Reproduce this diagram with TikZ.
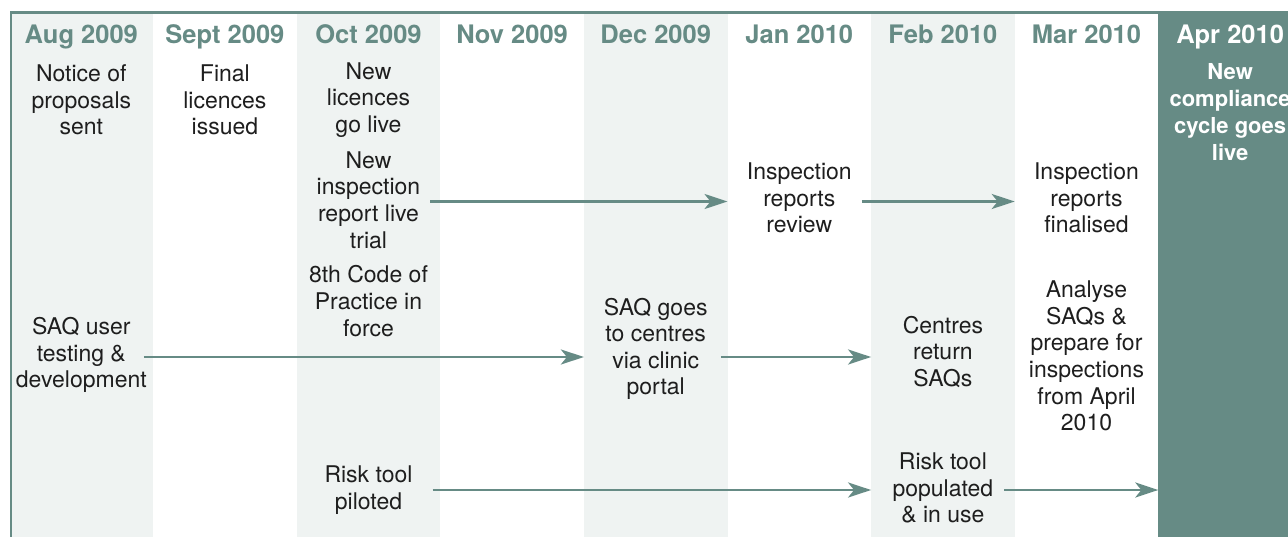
\documentclass[tikz,border=0pt]{standalone}
\usepackage{fontspec}
\setmainfont{TeX Gyre Heros}
\usetikzlibrary{arrows.meta}
\definecolor{teal}{HTML}{668B85}
\definecolor{pale}{HTML}{EFF3F2}
\definecolor{ink}{HTML}{1E1E1E}
\tikzset{
  col/.style={draw=none,minimum width=143.6pt,minimum height=526pt,inner sep=0pt,outer sep=0pt,anchor=north west},
  lightcol/.style={col,fill=pale},
  darkcol/.style={col,fill=teal},
  plaincol/.style={col,fill=white},
  head/.style={font=\fontsize{25.5}{30}\selectfont\bfseries,text=teal,anchor=base,inner sep=0pt},
  body/.style={font=\fontsize{23}{26.6}\selectfont,text=ink,align=center,inner sep=0pt},
  boldbody/.style={font=\fontsize{22}{27}\selectfont\bfseries,text=white,align=center,inner sep=0pt},
  arr/.style={draw=teal,line width=2.6pt,-{Stealth[length=23pt,width=15pt,inset=6pt]}},
}
\begin{document}
\begin{tikzpicture}[x=1pt,y=-1pt]
\useasboundingbox (0,0) rectangle (1288,537);
\clip (0,0) rectangle (1288,537);
% columns
\node[lightcol] (caug) at (9.5,11) {};
\node[plaincol] (csep) at (153.1,11) {};
\node[lightcol] (coct) at (296.7,11) {};
\node[plaincol] (cnov) at (440.3,11) {};
\node[lightcol] (cdec) at (583.9,11) {};
\node[plaincol] (cjan) at (727.5,11) {};
\node[lightcol] (cfeb) at (871.1,11) {};
\node[plaincol] (cmar) at (1014.7,11) {};
\node[darkcol] (capr) at (1158.3,11) {};
% frame
\draw[teal,line width=2.6pt] (caug.south west) ++(1.3,0) -- ([xshift=1.3pt,yshift=-1.3pt]caug.north west) -- ([yshift=-1.3pt]capr.north east);
% headers
\node[head] (haug) at (81.3,44) {Aug 2009};
\node[head] (hsep) at (224.9,44) {Sept 2009};
\node[head] (hoct) at (368.5,44) {Oct 2009};
\node[head] (hnov) at (512.1,44) {Nov 2009};
\node[head] (hdec) at (655.7,44) {Dec 2009};
\node[head] (hjan) at (799.3,44) {Jan 2010};
\node[head] (hfeb) at (942.9,44) {Feb 2010};
\node[head] (hmar) at (1086.5,44) {Mar 2010};
\node[head,text=white] (hapr) at (1230.1,44) {Apr 2010};
% body texts
\node[body] (notice) at (81.3,100) {Notice of\\proposals\\sent};
\node[body] (final) at (224.9,100) {Final\\licences\\issued};
\node[body] (golive) at (368.5,100) {New\\licences\\go live};
\node[body] (oinsp) at (368.5,200) {New\\inspection\\report live\\trial};
\node[body] (code) at (368.5,301) {8th Code of\\Practice in\\force};
\node[body] (orisk) at (368.5,490) {Risk tool\\piloted};
\node[body] (asaq) at (81.3,355) {SAQ user\\testing \&\\development};
\node[body] (dsaq) at (655.7,349) {SAQ goes\\to centres\\via clinic\\portal};
\node[body] (jinsp) at (799.3,198) {Inspection\\reports\\review};
\node[body] (fsaq) at (942.9,352) {Centres\\return\\SAQs};
\node[body] (frisk) at (942.9,488) {Risk tool\\populated\\\& in use};
\node[body] (minsp) at (1086.5,198) {Inspection\\reports\\finalised};
\node[body] (msaq) at (1086.5,356) {Analyse\\SAQs \&\\prepare for\\inspections\\from April\\2010};
\node[boldbody] (acycle) at (1230.1,112) {New\\compliance\\cycle goes\\live};
% arrows
\draw[arr,shorten <=10pt] (oinsp.east |- 0,201.5) -- (cjan.west |- 0,201.5);
\draw[arr,shorten <=10pt] (jinsp.east |- 0,201.5) -- (cmar.west |- 0,201.5);
\draw[arr,shorten <=-3pt] (asaq.east |- 0,357) -- (cdec.west |- 0,357);
\draw[arr,shorten <=13pt] (dsaq.east |- 0,357) -- (cfeb.west |- 0,357);
\draw[arr,shorten <=20pt] (orisk.east |- 0,490) -- (cfeb.west |- 0,490);
\draw[arr,shorten <=11pt] (frisk.east |- 0,490) -- (capr.west |- 0,490);
\end{tikzpicture}
\end{document}
